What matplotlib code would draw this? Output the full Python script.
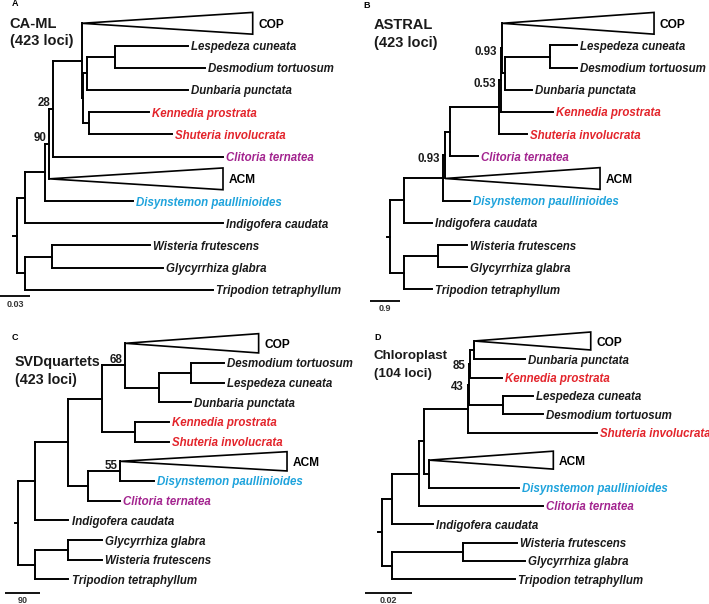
"""Four phylogenies (CA-ML, ASTRAL, SVDquartets, chloroplast) drawn as rectangular trees.

Trees are given as Newick strings (branch lengths in each tree's own units,
support values as internal node labels). COP and ACM are drawn as collapsed clades.
"""
import matplotlib
matplotlib.use("Agg")
import matplotlib.pyplot as plt
from matplotlib.collections import LineCollection
from matplotlib.patches import Polygon

plt.rcParams["font.family"] = ["Liberation Sans", "DejaVu Sans"]

# ---- data -----------------------------------------------------------------
NEWICK_A = ("((((((COP:0.171,(((Lespedeza_cuneata:0.073,Desmodium_tortuosum:0.090):0.0277,"
            "Dunbaria_punctata:0.1007):0.0046,(Kennedia_prostrata:0.0597,Shuteria_involucrata:0.0827)"
            ":0.0066):0.001):0.0284,Clitoria_ternatea:0.1697)28:0.004,ACM:0.1737)90:0.0043,"
            "Disynstemon_paullinioides:0.088):0.020,Indigofera_caudata:0.198):0.0083,"
            "((Wisteria_frutescens:0.0977,Glycyrrhiza_glabra:0.1107):0.0273,"
            "Tripodion_tetraphyllum:0.188):0.0083);")

NEWICK_B = ("((((((((COP:4.56,((Lespedeza_cuneata:0.801,Desmodium_tortuosum:0.801):1.341,"
            "Dunbaria_punctata:0.792):0.099)0.93:0.039,Kennedia_prostrata:1.578)0.53:0.042,"
            "Shuteria_involucrata:0.822):1.479,Clitoria_ternatea:0.849):0.15,ACM:4.65)0.93:0.051,"
            "Disynstemon_paullinioides:0.80):1.17,Indigofera_caudata:0.822):0.43,"
            "((Wisteria_frutescens:0.87,Glycyrrhiza_glabra:0.87):1.02,Tripodion_tetraphyllum:0.822):0.43);")

NEWICK_C = ("(((((COP:343,((Desmodium_tortuosum:86,Lespedeza_cuneata:86):83,Dunbaria_punctata:83):86)68:60,"
            "(Kennedia_prostrata:86,Shuteria_involucrata:86):86):86,((ACM:429,"
            "Disynstemon_paullinioides:86)55:84,Clitoria_ternatea:84):49):86,Indigofera_caudata:86):43,"
            "((Glycyrrhiza_glabra:86,Wisteria_frutescens:86):86,Tripodion_tetraphyllum:86):43);")

NEWICK_D = ("((((((((COP:0.05002,Dunbaria_punctata:0.02186):0.00171,Kennedia_prostrata:0.01359)85:0.00043,"
            "(Lespedeza_cuneata:0.0126,Desmodium_tortuosum:0.01689):0.0147)43:0.0003,"
            "Shuteria_involucrata:0.05504):0.01899,(ACM:0.05315,Disynstemon_paullinioides:0.03858)"
            ":0.00227):0.00201,Clitoria_ternatea:0.05289):0.01183,Indigofera_caudata:0.01757):0.00429,"
            "((Wisteria_frutescens:0.02289,Glycyrrhiza_glabra:0.02645):0.03069,"
            "Tripodion_tetraphyllum:0.05285):0.00429);")

LETTERS = ["A", "B", "C", "D"]
TITLES = ["CA-ML", "ASTRAL", "SVDquartets", "Chloroplast"]
LOCI = ["(423 loci)", "(423 loci)", "(423 loci)", "(104 loci)"]
TREES = [NEWICK_A, NEWICK_B, NEWICK_C, NEWICK_D]
SCALES = [0.03, 0.9, 90, 0.02]
SCALE_LABELS = ["0.03", "0.9", "90", "0.02"]

CLADES = ["COP", "ACM"]
TAXON_COLOR = {
    "Kennedia prostrata": "#e3242b",
    "Shuteria involucrata": "#e3242b",
    "Clitoria ternatea": "#a3248f",
    "Disynstemon paullinioides": "#1ea3dc",
}

# ---- layout (pixels of the 709x604 figure) ---------------------------------
W, H = 709, 604
LAYOUT = [
    dict(box=(0, 0, 350, 300), root=16.7, top=23.3, row=22.22, bar_px=30.0, bar=(0, 296.5),
         pad={}, sup=(-2.2, 4.0), letter=(15, 4), title=(9.5, 23.5), tsize=10.5),
    dict(box=(350, 0, 359, 300), root=40.0, top=23.3, row=22.17, bar_px=30.0, bar=(20, 301),
         pad={}, sup=(-3.6, -2.5), letter=(17, 5), title=(23.5, 25), tsize=10.5),
    dict(box=(0, 300, 350, 304), root=18.3, top=43.3, row=19.67, bar_px=35.0, bar=(5, 293),
         pad={}, sup=(-2.2, 4.0), letter=(15, 37), title=(15, 62), tsize=10.3),
    dict(box=(350, 300, 359, 304), root=31.7, top=41.0, row=18.33, bar_px=46.67, bar=(15, 293),
         pad={"ACM": 0.5}, sup=(-3.6, -1.5), letter=(28, 38), title=(23.5, 56), tsize=9.6),
]
LW = 1.4
TRI_HALF = 0.49  # half height of a collapsed clade, in rows


def parse_newick(s):
    s = s.strip().rstrip(";")
    pos = 0

    def node():
        nonlocal pos
        n = {"children": [], "name": "", "length": 0.0}
        if s[pos] == "(":
            pos += 1
            while True:
                n["children"].append(node())
                if s[pos] == ",":
                    pos += 1
                    continue
                pos += 1
                break
        start = pos
        while pos < len(s) and s[pos] not in ",():":
            pos += 1
        n["name"] = s[start:pos].replace("_", " ")
        if pos < len(s) and s[pos] == ":":
            pos += 1
            start = pos
            while pos < len(s) and s[pos] not in ",()":
                pos += 1
            n["length"] = float(s[start:pos])
        return n

    return node()


def place(tree, pad):
    row = [0.0]

    def walk(n, x):
        n["x"] = x
        if not n["children"]:
            extra = pad.get(n["name"], 0.0)
            row[0] += extra
            n["y"] = row[0]
            row[0] += 1 + extra
            return
        for c in n["children"]:
            walk(c, x + c["length"])
        n["y"] = (n["children"][0]["y"] + n["children"][-1]["y"]) / 2

    walk(tree, 0.0)


def draw_tree(ax, tree, lay, ppu):
    segs = []
    stub = 3.5 / ppu
    segs.append([(-stub, tree["y"]), (0, tree["y"])])

    def walk(n):
        if not n["children"]:
            return
        segs.append([(n["x"], n["children"][0]["y"]), (n["x"], n["children"][-1]["y"])])
        for c in n["children"]:
            if c["name"] in CLADES:
                tri = Polygon([(n["x"], c["y"]), (c["x"], c["y"] - TRI_HALF), (c["x"], c["y"] + TRI_HALF)],
                              closed=True, fc="white", ec="black", lw=1.2, joinstyle="miter", clip_on=False)
                ax.add_patch(tri)
                ax.annotate(c["name"], (c["x"], c["y"]), xytext=(4, 0), textcoords="offset points",
                            ha="left", va="center_baseline", fontsize=8.6, fontweight="bold",
                            annotation_clip=False)
            else:
                segs.append([(n["x"], c["y"]), (c["x"], c["y"])])
                if not c["children"]:
                    ax.annotate(c["name"], (c["x"], c["y"]), xytext=(2.2, 0), textcoords="offset points",
                                ha="left", va="center_baseline", fontsize=8.3, fontweight="bold",
                                fontstyle="italic", color=TAXON_COLOR.get(c["name"], "#1a1a1a"),
                                annotation_clip=False)
            walk(c)
        if n["name"]:
            ax.annotate(n["name"], (n["x"], n["y"]), xytext=lay["sup"], textcoords="offset points",
                        ha="right", va="center", fontsize=8.3, fontweight="bold", color="#1a1a1a",
                        annotation_clip=False)

    walk(tree)
    ax.add_collection(LineCollection(segs, colors="black", linewidths=LW,
                                     capstyle="projecting", clip_on=False))


fig = plt.figure(figsize=(W / 100, H / 100), dpi=100)

for letter, title, loci, nwk, scale, slabel, lay in zip(LETTERS, TITLES, LOCI, TREES,
                                                          SCALES, SCALE_LABELS, LAYOUT):
    x0, y0, w, h = lay["box"]
    ax = fig.add_axes([x0 / W, 1 - (y0 + h) / H, w / W, h / H])
    ax.patch.set_alpha(0)
    ppu = lay["bar_px"] / scale
    ax.set_xlim(-lay["root"] / ppu, (w - lay["root"]) / ppu)
    ax.set_ylim((h - lay["top"]) / lay["row"], -lay["top"] / lay["row"])
    ax.axis("off")

    def p2d(px, py):
        return (px - lay["root"]) / ppu, (py - lay["top"]) / lay["row"]

    tree = parse_newick(nwk)
    place(tree, lay["pad"])
    draw_tree(ax, tree, lay, ppu)

    # panel letter and title
    ax.text(*p2d(*lay["letter"]), letter, ha="center", va="center", fontsize=6.5, fontweight="bold")
    tx, ty = lay["title"]
    ax.text(*p2d(tx, ty), title, ha="left", va="center", fontsize=lay["tsize"],
            fontweight="bold", color="#1a1a1a")
    ax.text(*p2d(tx, ty + 18), loci, ha="left", va="center", fontsize=lay["tsize"],
            fontweight="bold", color="#1a1a1a")

    # scale bar
    bx, by = p2d(*lay["bar"])
    ax.plot([bx, bx + scale], [by, by], color="black", lw=1.3, solid_capstyle="butt", clip_on=False)
    ax.annotate(slabel, (bx + scale / 2, by), xytext=(0, -5.6), textcoords="offset points",
                ha="center", va="center", fontsize=6.5, fontweight="bold", color="#333333",
                annotation_clip=False)

fig.savefig("out.png", dpi=100)
